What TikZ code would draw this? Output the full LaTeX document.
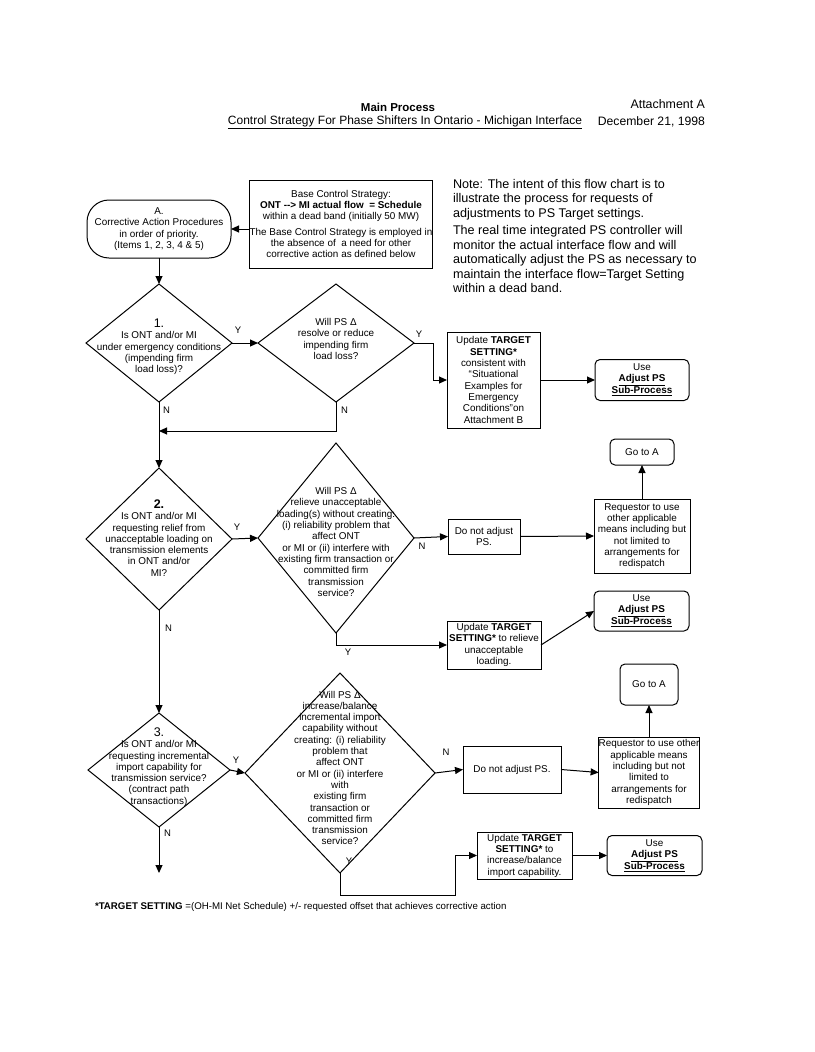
\documentclass[tikz,border=0pt]{standalone}
\usepackage{fontspec}
\setmainfont{Liberation Sans}
\usetikzlibrary{shapes.geometric,arrows.meta}
\begin{document}
\begin{tikzpicture}[x=1pt,y=-1pt,
 every node/.style={inner sep=0pt, outer sep=0pt},
 txt/.style={font=\fontsize{9.9}{11.3}\selectfont, align=center},
 lbl/.style={font=\fontsize{9.5}{10}\selectfont},
 box/.style={draw, line width=1pt, txt},
 rbox/.style={box, rounded corners=5pt},
 usebox/.style={rbox, font=\fontsize{9.9}{11}\selectfont},
 dia/.style={draw, diamond, line width=1pt},
 arr/.style={-{Triangle[length=8pt,width=7pt]}, line width=1pt},
 ln/.style={line width=1pt}]
\useasboundingbox (0,0) rectangle (814,1052);

% header
\node[font=\bfseries\fontsize{11.5}{12}\selectfont] (h1) at (398,107) {Main Process};
\node[font=\fontsize{12}{12}\selectfont] (h2) at (405,122) {\underline{Control Strategy For Phase Shifters In Ontario - Michigan Interface}};
\node[font=\fontsize{12.4}{12}\selectfont, anchor=east] (h3) at (705,104) {Attachment A};
\node[font=\fontsize{12.2}{12}\selectfont, anchor=east] (h4) at (705,122) {December 21, 1998};

% note
\node[font=\fontsize{12.6}{14.6}\selectfont, align=left, anchor=north west] (note) at (453,179) {Note: The intent of this flow chart is to\\illustrate the process for requests of\\adjustments to PS Target settings.\\[2.5pt]The real time integrated PS controller will\\monitor the actual interface flow and will\\automatically adjust the PS as necessary to\\maintain the interface flow=Target Setting\\within a dead band.};

% top
\node[box, rounded corners=22pt, minimum width=144pt, minimum height=58pt] (A) at (159,229) {A.\\Corrective Action Procedures\\in order of priority.\\(Items 1, 2, 3, 4 \& 5)};
\node[box, minimum width=182pt, minimum height=88pt] (base) at (341,224) {Base Control Strategy:\\\textbf{ONT -{}-> MI actual flow \ = Schedule}\\within a dead band (initially 50 MW)\\[4pt]The Base Control Strategy is employed in\\the absence of \ a need for other\\corrective action as defined below};

% row 1
\node[dia, minimum width=146pt, minimum height=118pt] (d1) at (159,343) {};
\node[txt] (d1t) at (159,347) {{\fontsize{12.5}{12}\selectfont 1.}\\Is ONT and/or MI\\under emergency conditions\\(impending firm\\load loss)?};
\node[dia, minimum width=156pt, minimum height=118pt] (d2) at (336,343) {};
\node[txt] (d2t) at (336,339) {Will PS Δ\\resolve or reduce\\impending firm\\load loss?};
\node[lbl] (y1) at (238,330) {Y};
\node[lbl] (y2) at (419,334) {Y};
\node[lbl, anchor=west] (n1) at (163,410) {N};
\node[lbl, anchor=west] (n2) at (341,410) {N};
\node[box, minimum width=93pt, minimum height=96pt] (u1) at (493.5,380) {Update \textbf{TARGET}\\\textbf{SETTING*}\\consistent with\\“Situational\\Examples for\\Emergency\\Conditions”on\\Attachment B};
\node[usebox, minimum width=94pt, minimum height=41pt] (use1) at (642,380) {Use\\\textbf{\underline{Adjust PS}}\\\textbf{\underline{Sub-Process}}};
\coordinate (m1) at (159,431);

% row 2
\node[dia, minimum width=146pt, minimum height=142pt] (q2) at (159,539) {};
\node[txt] (q2t) at (159,538) {{\fontsize{12.5}{12}\selectfont\bfseries 2.}\\Is ONT and/or MI\\requesting relief from\\unacceptable loading on\\transmission elements\\in ONT and/or\\MI?};
\node[dia, minimum width=156pt, minimum height=190pt] (r2) at (336,538) {};
\node[txt] (r2t) at (336,542) {Will PS Δ\\relieve unacceptable\\loading(s) without creating:\\(i) reliability problem that\\affect ONT\\or MI or (ii) interfere with\\existing firm transaction or\\committed firm\\transmission\\service?};
\node[lbl] (y3) at (237,527) {Y};
\node[lbl] (n3) at (422,546) {N};
\node[lbl] (y4) at (348,652) {Y};
\node[lbl, anchor=west] (n4) at (165,628) {N};
\node[box, minimum width=72pt, minimum height=35pt] (dn2) at (484,536.5) {Do not adjust\\PS.};
\node[box, minimum width=96pt, minimum height=74pt] (req2) at (642,536) {Requestor to use\\other applicable\\means including but\\not limited to\\arrangements for\\redispatch};
\node[rbox, minimum width=64pt, minimum height=26pt] (go2) at (642,452) {Go to A};
\node[box, minimum width=94pt, minimum height=48pt] (u2) at (494,645) {Update \textbf{TARGET}\\\textbf{SETTING*} to relieve\\unacceptable\\loading.};
\node[usebox, minimum width=95pt, minimum height=40pt] (use2) at (641.5,611) {Use\\\textbf{\underline{Adjust PS}}\\\textbf{\underline{Sub-Process}}};

% row 3
\node[dia, minimum width=142pt, minimum height=114pt] (q3) at (159,770) {};
\node[txt] (q3t) at (159,767) {{\fontsize{12.5}{12}\selectfont 3.}\\Is ONT and/or MI\\requesting incremental\\import capability for\\transmission service?\\(contract path\\transactions)};
\node[dia, minimum width=190pt, minimum height=200pt] (r3) at (340,773) {};
\node[txt] (r3t) at (340,768) {Will PS Δ\\increase/balance\\incremental import\\capability without\\creating: (i) reliability\\problem that\\affect ONT\\or MI or (ii) interfere\\with\\existing firm\\transaction or\\committed firm\\transmission\\service?};
\node[lbl] (y5) at (236,760) {Y};
\node[lbl] (n5) at (446,752) {N};
\node[lbl] (y6) at (349,861) {Y};
\node[lbl, anchor=west] (n6) at (164,833) {N};
\node[box, minimum width=98pt, minimum height=47pt] (dn3) at (512,769.5) {Do not adjust PS.};
\node[box, minimum width=100pt, minimum height=71pt] (req3) at (649,772.5) {Requestor to use other\\applicable means\\including but not\\limited to\\arrangements for\\redispatch};
\node[rbox, minimum width=58pt, minimum height=41pt] (go3) at (649,684.5) {Go to A};
\node[box, minimum width=95pt, minimum height=47pt] (u3) at (524.5,855.5) {Update \textbf{TARGET}\\\textbf{SETTING*} to\\increase/balance\\import capability.};
\node[usebox, minimum width=95pt, minimum height=40pt] (use3) at (654.5,855.5) {Use\\\textbf{\underline{Adjust PS}}\\\textbf{\underline{Sub-Process}}};
\coordinate (k3) at (455,895);
\coordinate (q3end) at (159,873);

% footer
\node[font=\fontsize{9.7}{10}\selectfont, anchor=west] (foot) at (95,907) {\textbf{*TARGET SETTING} =(OH-MI Net Schedule) +/- requested offset that achieves corrective action};

% connectors
\draw[arr] (base.west |- A.east) -- (A.east);
\draw[arr] (A.south) -- (d1.north);
\draw[arr] (d1.east) -- (d2.west);
\draw[arr] (d2.east) -- ++(19,0) |- (u1.west);
\draw[arr] (u1.east) -- (use1.west);
\draw[arr] (d2.south) |- (m1);
\draw[arr] (d1.south) -- (q2.north);
\draw[arr] (q2.east) -- (r2.west);
\draw[arr] (r2.east) -- (dn2.west);
\draw[arr] (dn2.east) -- (req2.west);
\draw[arr] (req2.north) -- (go2.south);
\draw[arr] (r2.south) |- (u2.west);
\draw[arr] (u2.east) -- (use2.west);
\draw[arr] (q2.south) -- (q3.north);
\draw[arr] (q3.east) -- (r3.west);
\draw[arr] (r3.east) -- (dn3.west);
\draw[arr] (dn3.east) -- (req3.west);
\draw[arr] (req3.north) -- (go3.south);
\draw[arr] (r3.south) |- (k3) |- (u3.west);
\draw[arr] (u3.east) -- (use3.west);
\draw[arr] (q3.south) -- (q3end);
\end{tikzpicture}
\end{document}
